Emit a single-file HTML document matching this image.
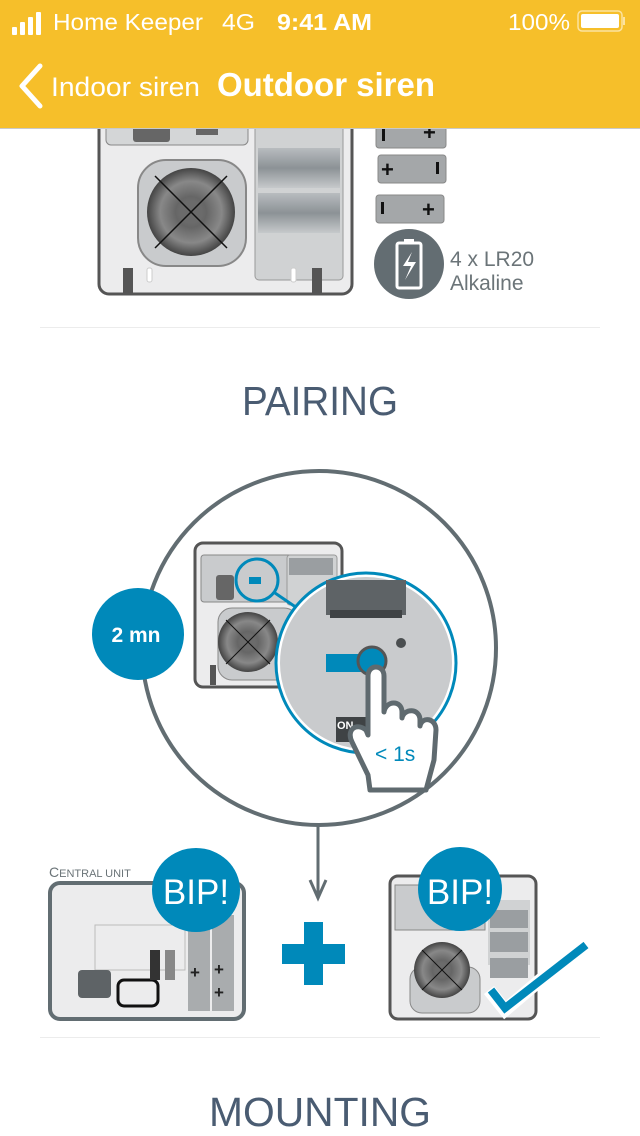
<!DOCTYPE html>
<html><head><meta charset="utf-8"><style>
html,body{margin:0;padding:0;background:#fff;}
svg{display:block;font-family:"Liberation Sans",sans-serif;}
</style></head><body>
<svg width="640" height="1136" viewBox="0 0 640 1136" xmlns="http://www.w3.org/2000/svg">
<defs>
<radialGradient id="spk" cx="50%" cy="50%" r="50%">
<stop offset="0" stop-color="#777"/><stop offset="0.35" stop-color="#666"/><stop offset="0.7" stop-color="#888"/><stop offset="1" stop-color="#444"/>
</radialGradient>
<linearGradient id="bat" x1="0" y1="0" x2="0" y2="1"><stop offset="0" stop-color="#b8bcbf"/><stop offset="0.5" stop-color="#8c9296"/><stop offset="1" stop-color="#c6c9cb"/></linearGradient>
</defs>

<rect x="99" y="100" width="253" height="194" rx="10" fill="#ececed" stroke="#555" stroke-width="3"/>
<rect x="106" y="110" width="142" height="35" rx="5" fill="#d4d6d7" stroke="#888"/>
<rect x="133" y="120" width="37" height="22" rx="3" fill="#666"/>
<rect x="196" y="125" width="22" height="10" fill="#666"/>
<rect x="255" y="110" width="88" height="170" rx="4" fill="#d0d2d3" stroke="#999"/>
<rect x="258" y="148" width="82" height="40" fill="url(#bat)"/>
<rect x="258" y="193" width="82" height="40" fill="url(#bat)"/>
<rect x="138" y="160" width="108" height="106" rx="28" fill="#c9cbcd" stroke="#888" stroke-width="2"/>
<circle cx="191" cy="212" r="44" fill="url(#spk)"/>
<circle cx="191" cy="212" r="12" fill="#6b6b6b"/>
<line x1="155" y1="176" x2="227" y2="248" stroke="#111" stroke-width="1.5"/>
<line x1="227" y1="176" x2="155" y2="248" stroke="#111" stroke-width="1.5"/>
<rect x="123" y="268" width="10" height="25" fill="#555"/>
<rect x="312" y="268" width="10" height="25" fill="#555"/>
<rect x="147" y="268" width="5" height="14" rx="2" fill="#fff" stroke="#ccc"/>
<rect x="291" y="268" width="5" height="14" rx="2" fill="#fff" stroke="#ccc"/>
<g fill="#a4a7a9" stroke="#888">
<rect x="376" y="120" width="70" height="28" rx="3"/>
<rect x="378" y="155" width="68" height="28" rx="3"/>
<rect x="376" y="195" width="68" height="28" rx="3"/>
</g>
<g font-size="22" font-weight="bold" fill="#111">
<text x="423" y="140">+</text><text x="381" y="177">+</text><text x="422" y="217">+</text>
</g>
<rect x="382" y="129" width="3" height="12" fill="#111"/>
<rect x="436" y="162" width="3" height="12" fill="#111"/>
<rect x="381" y="202" width="3" height="12" fill="#111"/>
<circle cx="409" cy="264" r="35" fill="#636d72"/>
<rect x="397" y="243" width="24" height="45" rx="2" fill="none" stroke="#fff" stroke-width="3"/>
<rect x="404" y="239" width="10" height="5" fill="#fff"/>
<path d="M412 252 L403 266 L411 266 L405 280 L416 262 L408 262 Z" fill="#fff"/>
<text x="450" y="266" font-size="21" fill="#6b7478">4 x LR20</text>
<text x="450" y="290" font-size="21" fill="#6b7478">Alkaline</text>

<rect x="0" y="0" width="640" height="128" fill="#f6bf2a"/>
<line x1="0" y1="128.5" x2="640" y2="128.5" stroke="#c9c9c9"/>
<g fill="#fff">
<rect x="12" y="27" width="5" height="8" rx="1"/><rect x="20" y="22" width="5" height="13" rx="1"/><rect x="28" y="17" width="5" height="18" rx="1"/><rect x="36" y="12" width="5" height="23" rx="1"/>
<text x="53" y="30" font-size="23" textLength="150" lengthAdjust="spacingAndGlyphs">Home Keeper</text>
<text x="222" y="30" font-size="23" textLength="33" lengthAdjust="spacingAndGlyphs">4G</text>
<text x="277" y="30" font-size="23" font-weight="bold" textLength="95" lengthAdjust="spacingAndGlyphs">9:41 AM</text>
<text x="508" y="30" font-size="23" textLength="62" lengthAdjust="spacingAndGlyphs">100%</text>
<rect x="578" y="11" width="44" height="20" rx="4" fill="none" stroke="#fce3a0" stroke-width="1.5"/>
<rect x="581" y="14" width="38" height="14" rx="2"/>
<rect x="623" y="17" width="2" height="8" fill="#fce3a0"/>
<text x="51" y="96" font-size="27" textLength="149" lengthAdjust="spacingAndGlyphs">Indoor siren</text>
<text x="217" y="96" font-size="33" font-weight="bold" textLength="218" lengthAdjust="spacingAndGlyphs">Outdoor siren</text>
</g>
<path d="M40 66 L22 86 L40 106" fill="none" stroke="#fff" stroke-width="5" stroke-linecap="round" stroke-linejoin="round"/>

<line x1="40" y1="327.5" x2="600" y2="327.5" stroke="#ececec"/>
<text x="320" y="415" font-size="41" fill="#4a5c72" text-anchor="middle" textLength="156" lengthAdjust="spacingAndGlyphs">PAIRING</text>

<circle cx="319" cy="648" r="177" fill="#fff" stroke="#626d72" stroke-width="4"/>
<circle cx="138" cy="634" r="46" fill="#0089ba"/>
<text x="136" y="642" font-size="21" font-weight="bold" fill="#fff" text-anchor="middle">2 mn</text>
<rect x="195" y="543" width="147" height="144" rx="8" fill="#ececed" stroke="#555" stroke-width="3"/>
<rect x="201" y="555" width="95" height="47" rx="3" fill="#c9cbcd" stroke="#888"/>
<rect x="216" y="575" width="18" height="25" rx="3" fill="#666"/>
<rect x="287" y="555" width="50" height="50" rx="3" fill="#d0d2d3" stroke="#999"/>
<rect x="289" y="558" width="44" height="17" fill="#9a9ea1"/>
<rect x="218" y="608" width="80" height="72" rx="14" fill="#c9cbcd" stroke="#888"/>
<circle cx="248" cy="642" r="30" fill="url(#spk)"/>
<circle cx="248" cy="642" r="8" fill="#6b6b6b"/>
<line x1="226" y1="620" x2="270" y2="664" stroke="#111"/><line x1="270" y1="620" x2="226" y2="664" stroke="#111"/>
<rect x="210" y="665" width="6" height="20" fill="#555"/>
<circle cx="257" cy="580" r="21" fill="#c9cbcd" stroke="#0089ba" stroke-width="3"/>
<rect x="249" y="577" width="12" height="7" fill="#0089ba"/>
<line x1="275" y1="593" x2="300" y2="610" stroke="#0089ba" stroke-width="3"/>
<circle cx="366" cy="663" r="88" fill="#c9cbcd" stroke="#fff" stroke-width="4"/>
<circle cx="366" cy="663" r="90" fill="none" stroke="#0089ba" stroke-width="3"/>
<rect x="326" y="580" width="80" height="35" fill="#5e6366"/>
<rect x="330" y="610" width="72" height="8" fill="#3f4345"/>
<circle cx="401" cy="643" r="5" fill="#4a4e50"/>
<rect x="326" y="654" width="50" height="18" fill="#0089ba"/>
<circle cx="372" cy="661" r="14" fill="#0089ba" stroke="#555" stroke-width="3"/>
<rect x="336" y="717" width="30" height="25" fill="#3f4345"/>
<text x="337" y="729" font-size="11" font-weight="bold" fill="#fff">ON</text>
<path d="M368 775 L352 742 C346 730 356 722 366 730 L368 735 L368 676 C368 664 384 664 384 676 L384 712 C386 700 402 700 402 712 L402 718 C404 708 420 708 420 720 L420 726 C422 716 436 718 436 730 L434 760 L426 790 L370 790 Z" fill="#fff" stroke="#5f6a6f" stroke-width="5" stroke-linejoin="round"/>
<text x="375" y="761" font-size="21" fill="#0089ba">&lt; 1s</text>

<line x1="318" y1="826" x2="318" y2="898" stroke="#626d72" stroke-width="3"/>
<path d="M310 880 L318 898 L326 880" fill="none" stroke="#626d72" stroke-width="3"/>

<text x="49" y="877" font-size="14" fill="#6b7478">C<tspan font-size="11">ENTRAL UNIT</tspan></text>
<rect x="50" y="883" width="194" height="136" rx="10" fill="#ececed" stroke="#626d72" stroke-width="4"/>
<rect x="95" y="925" width="90" height="45" fill="none" stroke="#bbb"/>
<rect x="188" y="915" width="22" height="96" fill="#a9acae"/><rect x="212" y="915" width="22" height="96" fill="#a9acae"/>
<rect x="78" y="970" width="33" height="28" rx="4" fill="#5e6366"/>
<rect x="118" y="980" width="40" height="26" rx="6" fill="none" stroke="#111" stroke-width="3"/>
<rect x="150" y="950" width="10" height="30" fill="#333"/><rect x="165" y="950" width="10" height="30" fill="#888"/>
<g font-size="17" font-weight="bold" fill="#222"><text x="190" y="978">+</text><text x="214" y="975">+</text><text x="214" y="998">+</text></g>
<ellipse cx="196" cy="890" rx="44" ry="42" fill="#0089ba"/>
<text x="196" y="904" font-size="35" fill="#fff" text-anchor="middle">BIP!</text>

<rect x="282" y="944" width="63" height="20" fill="#0089ba"/>
<rect x="304" y="922" width="19" height="63" fill="#0089ba"/>

<rect x="390" y="876" width="146" height="143" rx="8" fill="#ececed" stroke="#555" stroke-width="3"/>
<rect x="395" y="885" width="90" height="45" fill="#c9cbcd" stroke="#888"/>
<rect x="488" y="900" width="42" height="65" fill="#d0d2d3"/>
<rect x="490" y="932" width="38" height="20" fill="#9a9ea1"/>
<rect x="490" y="958" width="38" height="20" fill="#9a9ea1"/>
<rect x="490" y="910" width="38" height="18" fill="#9a9ea1"/>
<rect x="410" y="967" width="70" height="46" rx="12" fill="#c9cbcd" stroke="#888"/>
<circle cx="442" cy="970" r="28" fill="url(#spk)"/>
<circle cx="442" cy="970" r="7" fill="#6b6b6b"/>
<line x1="422" y1="950" x2="462" y2="990" stroke="#111"/><line x1="462" y1="950" x2="422" y2="990" stroke="#111"/>
<ellipse cx="460" cy="889" rx="42" ry="42" fill="#0089ba"/>
<text x="460" y="904" font-size="35" fill="#fff" text-anchor="middle">BIP!</text>
<path d="M489 990 L505 1010 L585 942" fill="none" stroke="#fff" stroke-width="13"/>
<path d="M491 990 L505 1008 L586 945" fill="none" stroke="#0089ba" stroke-width="8"/>

<line x1="40" y1="1037.5" x2="600" y2="1037.5" stroke="#ececec"/>
<text x="320" y="1126" font-size="41" fill="#4a5c72" text-anchor="middle" textLength="222" lengthAdjust="spacingAndGlyphs">MOUNTING</text>
</svg>
</body></html>
